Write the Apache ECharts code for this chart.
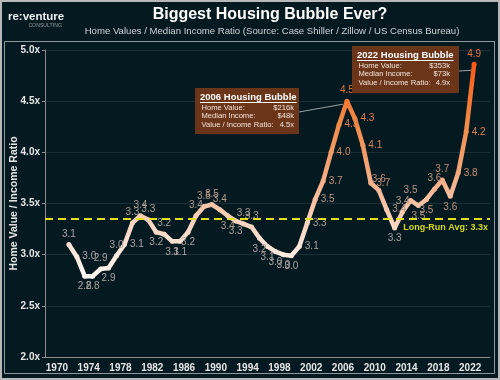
<!DOCTYPE html>
<html><head><meta charset="utf-8">
<script src="https://cdn.jsdelivr.net/npm/echarts@6/dist/echarts.min.js"></script>
<style>html,body{margin:0;padding:0;background:#051920;}#c{width:500px;height:380px;}</style>
</head><body><div id="c"></div>
<script>
const years = [1971,1972,1973,1974,1975,1976,1977,1978,1979,1980,1981,1982,1983,1984,1985,1986,1987,1988,1989,1990,
  1991,1992,1993,1994,1995,1996,1997,1998,1999,2000,2001,2002,2003,2004,2005,2006,2007,2008,2009,2010,
  2011,2012,2013,2014,2015,2016,2017,2018,2019,2020,2021,2022];
const ratio = [3.10,2.98,2.79,2.79,2.86,2.87,2.99,3.10,3.31,3.38,3.34,3.22,3.20,3.13,3.13,3.22,3.38,3.47,3.49,3.44,
  3.38,3.33,3.30,3.27,3.16,3.08,3.03,3.00,2.99,3.08,3.31,3.54,3.72,4.00,4.27,4.50,4.33,4.07,3.70,3.63,
  3.44,3.26,3.42,3.53,3.48,3.54,3.64,3.73,3.57,3.80,4.20,4.86];
const xTickYears = [1970,1974,1978,1982,1986,1990,1994,1998,2002,2006,2010,2014,2018,2022];
const avgRatio = 3.35;
const avgLabel = 'Long-Run Avg: 3.3x';
const titleText = 'Biggest Housing Bubble Ever?';
const subtitleText = 'Home Values / Median Income Ratio (Source: Case Shiller / Zillow / US Census Bureau)';
const yName = 'Home Value / Income Ratio';
const bubble2006Title = '2006 Housing Bubble';
const bubble2006Rows = [['Home Value:', '$216k'], ['Median Income:', '$48k'], ['Value / Income Ratio:', '4.5x']];
const bubble2022Title = '2022 Housing Bubble';
const bubble2022Rows = [['Home Value:', '$353k'], ['Median Income:', '$73k'], ['Value / Income Ratio:', '4.9x']];

const FF = '"Liberation Sans", Arial, sans-serif';

function mix(a, b, t) {
  const c = a.map((x, i) => Math.round(x + (b[i] - x) * t));
  return 'rgb(' + c.join(',') + ')';
}
function labelColor(v) {
  const t = Math.max(0, Math.min(1, (v - 3.2) / 1.3));
  return mix([170, 162, 160], [234, 118, 58], t);
}
function labelPos(i) {
  if (i === 0 || i === ratio.length - 1) return 'top';
  const p = ratio[i - 1], n = ratio[i + 1], v = ratio[i];
  if (Math.abs(n - p) > 0.3) return 'right';
  return v >= (p + n) / 2 - 1e-9 ? 'top' : 'bottom';
}
const seriesData = years.map((y, i) => ({
  value: [y + 0.5, ratio[i]],
  label: { position: labelPos(i), color: labelColor(ratio[i]) }
}));

const chart = echarts.init(document.getElementById('c'), null, { renderer: 'canvas' });
chart.setOption({
  backgroundColor: '#051920',
  animation: false,
  textStyle: { fontFamily: FF },
  grid: { left: 45, right: 10, top: 50, bottom: 23, containLabel: false, outerBoundsMode: 'none' },
  visualMap: {
    show: false, type: 'continuous', dimension: 1, seriesIndex: 0,
    min: 2.8, max: 4.9,
    inRange: { color: ['#fff6f1', '#f9d3bd', '#f4a576', '#f0853f', '#ff5512'] }
  },
  xAxis: {
    type: 'value', min: 1968.5, max: 2024.5, interval: 0.5,
    axisLine: { show: true, lineStyle: { color: '#8c8c8c', width: 1 } },
    axisTick: { show: false },
    splitLine: { show: false },
    axisLabel: {
      formatter: v => xTickYears.indexOf(Math.round(v * 2) / 2) >= 0 ? String(Math.round(v)) : '',
      color: '#e6e6e6', fontWeight: 'bold', fontSize: 10, margin: 6, fontFamily: FF
    }
  },
  yAxis: {
    type: 'value', min: 2, max: 5, interval: 0.5,
    axisLine: { show: true, lineStyle: { color: '#8c8c8c', width: 1 } },
    axisTick: { show: true, length: 3, lineStyle: { color: '#8c8c8c' } },
    axisLabel: { formatter: v => v.toFixed(1) + 'x', color: '#e6e6e6', fontWeight: 'bold', fontSize: 10, margin: 5, fontFamily: FF },
    splitLine: { show: true, lineStyle: { color: '#1a2f37', width: 1 } }
  },
  series: [{
    type: 'line',
    data: seriesData,
    lineStyle: { width: 4.5 },
    symbol: 'circle', symbolSize: 5, showSymbol: true,
    label: {
      show: true, fontSize: 10, fontFamily: FF, distance: 3,
      formatter: p => p.value[1].toFixed(1)
    },
    markLine: {
      silent: true, symbol: ['none', 'none'],
      data: [{ yAxis: avgRatio }],
      lineStyle: { color: '#e2e21a', type: [8, 5], width: 2 },
      label: { show: true, position: 'insideEndBottom', formatter: avgLabel, color: '#d8d820', fontSize: 9, fontWeight: 'bold', fontFamily: FF, distance: [2, 4] }
    },
    z: 3
  }]
});

const mctx = document.createElement('canvas').getContext('2d');
function textW(str, font) { mctx.font = font; return mctx.measureText(str).width; }

function bubble(box, title, rows, valRight, target) {
  const els = [];
  els.push({ type: 'rect', shape: { x: box.x, y: box.y, width: box.w, height: box.h }, style: { fill: '#6b3519' }, z: 10 });
  const tFont = 'bold 9.5px ' + FF;
  const tx = box.x + 5, ty = box.y + 9;
  els.push({ type: 'text', x: tx, y: ty, style: { text: title, font: tFont, fill: '#ffffff', verticalAlign: 'middle', align: 'left' }, z: 11 });
  const tw = textW(title, tFont);
  els.push({ type: 'line', shape: { x1: tx, y1: ty + 5.5, x2: tx + tw, y2: ty + 5.5 }, style: { stroke: '#ffffff', lineWidth: 1 }, z: 11 });
  const rFont = '7.6px ' + FF;
  rows.forEach((r, i) => {
    const ry = box.y + 19.5 + i * 8.8;
    els.push({ type: 'text', x: tx + 1.5, y: ry, style: { text: r[0], font: rFont, fill: '#f2e4dc', verticalAlign: 'middle', align: 'left' }, z: 11 });
    els.push({ type: 'text', x: valRight, y: ry, style: { text: r[1], font: rFont, fill: '#f2e4dc', verticalAlign: 'middle', align: 'right' }, z: 11 });
  });
  els.push({ type: 'line', shape: { x1: box.x + box.w, y1: target.fromY, x2: target.x, y2: target.y }, style: { stroke: '#9aa2a4', lineWidth: 1 }, z: 9 });
  return els;
}

const p2006 = chart.convertToPixel({ seriesIndex: 0 }, [2006.5, ratio[years.indexOf(2006)]]);
const p2022 = chart.convertToPixel({ seriesIndex: 0 }, [2022.5, ratio[years.indexOf(2022)]]);
const yMid = (chart.convertToPixel({ yAxisIndex: 0 }, 2) + chart.convertToPixel({ yAxisIndex: 0 }, 5)) / 2;

const graphics = [
  { type: 'rect', shape: { x: 1, y: 1, width: 498, height: 378 }, style: { fill: 'none', stroke: '#b8b8b8', lineWidth: 2 }, z: 20 },
  { type: 'rect', shape: { x: 4.5, y: 41.5, width: 490, height: 332 }, style: { fill: 'none', stroke: '#8e999d', lineWidth: 1 }, z: 20 },
  { type: 'text', x: 270, y: 15, style: { text: titleText, font: 'bold 16px ' + FF, fill: '#ffffff', align: 'center', verticalAlign: 'middle' } },
  { type: 'text', x: 272, y: 31, style: { text: subtitleText, font: '9.6px ' + FF, fill: '#d2d2d2', align: 'center', verticalAlign: 'middle' } },
  { type: 'text', x: 8, y: 17, style: { text: 're:venture', font: 'bold 11.5px ' + FF, fill: '#eeeeee', align: 'left', verticalAlign: 'middle' } },
  { type: 'text', x: 62, y: 25.5, style: { text: 'CONSULTING', font: '5.2px ' + FF, fill: '#9a9a9a', align: 'right', verticalAlign: 'middle' } },
  { type: 'text', x: 14, y: yMid, rotation: Math.PI / 2, style: { text: yName, font: 'bold 10.5px ' + FF, fill: '#e6e6e6', align: 'center', verticalAlign: 'middle' } }
].concat(
  bubble({ x: 195, y: 88, w: 104, h: 46 }, bubble2006Title, bubble2006Rows, 294,
    { fromY: 112, x: p2006[0] - 4, y: p2006[1] + 3 }),
  bubble({ x: 352, y: 46, w: 107, h: 47 }, bubble2022Title, bubble2022Rows, 450,
    { fromY: 71, x: p2022[0] - 3, y: p2022[1] + 6 })
);
chart.setOption({ graphic: graphics });
</script>
</body></html>
